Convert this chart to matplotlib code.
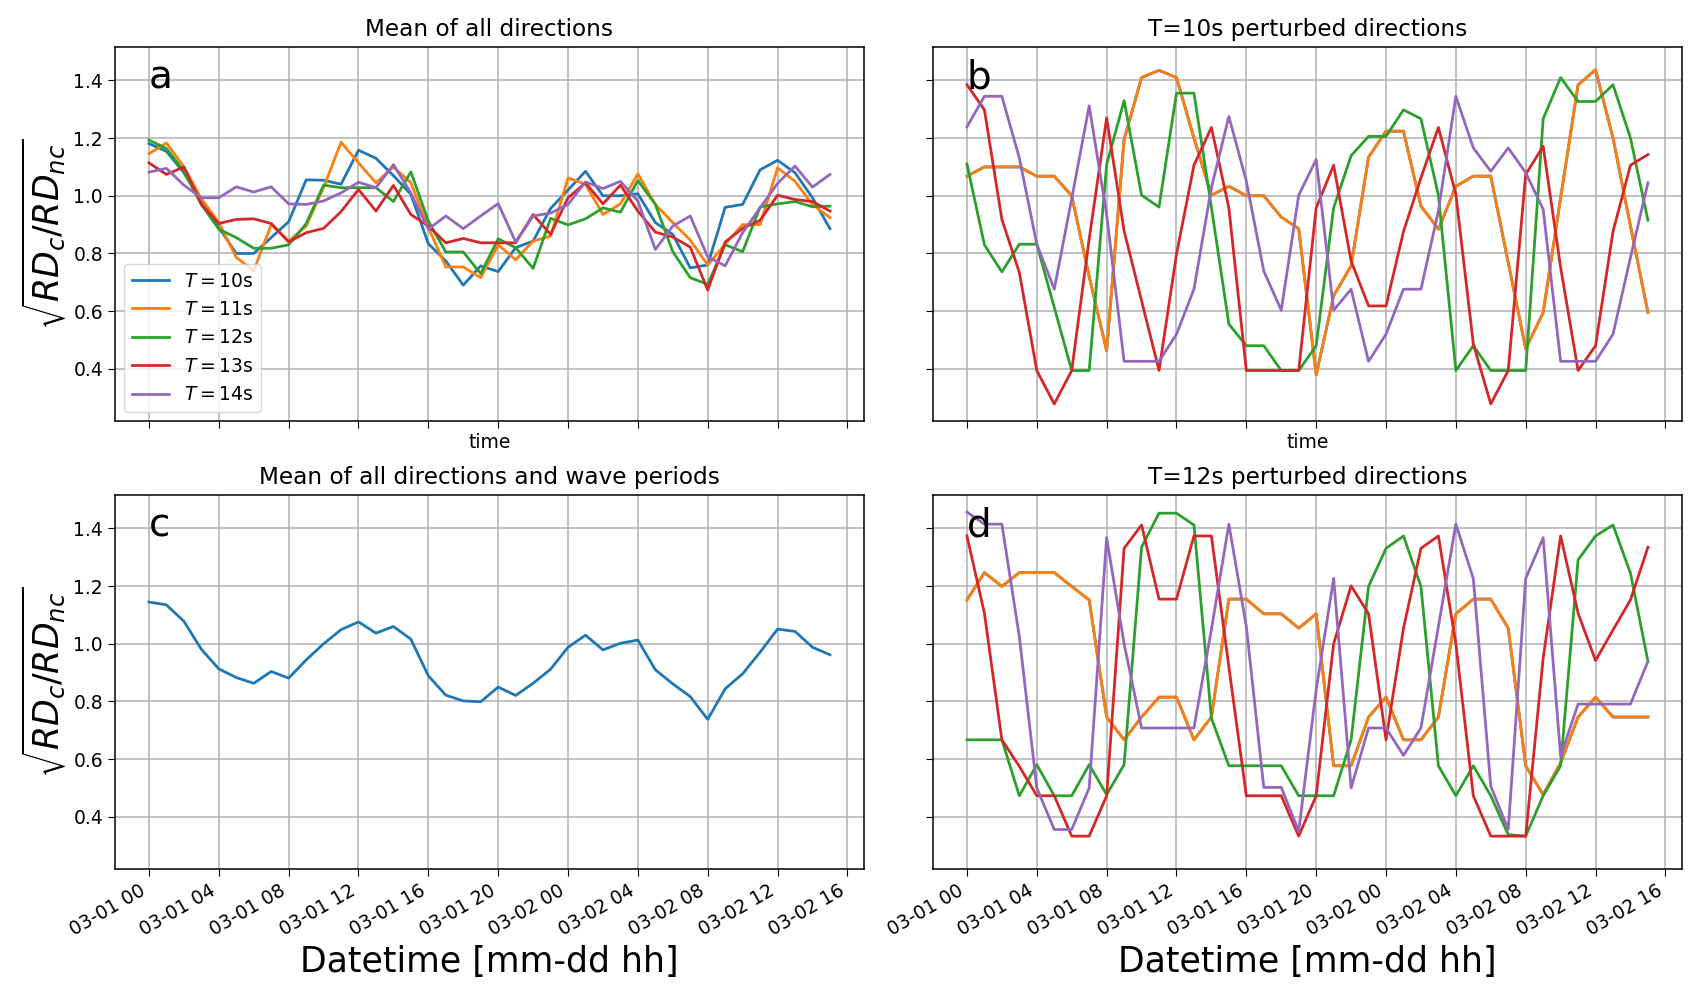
import pandas as pd
import matplotlib
matplotlib.use('Agg')
import matplotlib.pyplot as plt
import matplotlib.dates as mdates

# hourly time stamps, 03-01 00 .. 03-02 15
times = pd.date_range('2021-03-01 00:00', periods=40, freq='h')

# a: mean of all directions, per wave period
a_T10 = [1.181, 1.154, 1.08, 0.98, 0.89, 0.80, 0.80, 0.855, 0.91, 1.055,
         1.054, 1.04, 1.158, 1.13, 1.07, 1.005, 0.834, 0.774, 0.69, 0.757,
         0.737, 0.82, 0.843, 0.956, 1.02, 1.085, 1.0, 1.0, 1.007, 0.907,
         0.866, 0.75, 0.76, 0.96, 0.97, 1.09, 1.123, 1.08, 0.993, 0.886]
a_T11 = [1.146, 1.183, 1.10, 0.99, 0.907, 0.786, 0.74, 0.90, 0.843, 0.895,
         1.028, 1.186, 1.114, 1.045, 1.10, 1.045, 0.89, 0.753, 0.753, 0.716,
         0.83, 0.778, 0.843, 0.86, 1.062, 1.04, 0.935, 0.972, 1.076, 0.97,
         0.907, 0.846, 0.76, 0.832, 0.90, 0.90, 1.097, 1.05, 0.97, 0.924]
a_T12 = [1.193, 1.164, 1.085, 0.97, 0.884, 0.855, 0.818, 0.818, 0.83, 0.903,
         1.037, 1.028, 1.028, 1.028, 0.98, 1.083, 0.912, 0.805, 0.805, 0.73,
         0.851, 0.82, 0.748, 0.922, 0.899, 0.92, 0.958, 0.943, 1.053, 0.97,
         0.806, 0.716, 0.693, 0.83, 0.806, 0.961, 0.972, 0.98, 0.962, 0.964]
a_T13 = [1.114, 1.074, 1.10, 0.97, 0.904, 0.918, 0.92, 0.904, 0.84, 0.872,
         0.887, 0.945, 1.022, 0.947, 1.036, 0.935, 0.895, 0.837, 0.852, 0.837,
         0.837, 0.837, 0.935, 0.866, 0.993, 1.045, 0.972, 1.037, 0.947, 0.874,
         0.857, 0.822, 0.673, 0.84, 0.887, 0.915, 1.002, 0.987, 0.98, 0.947]
a_T14 = [1.082, 1.095, 1.037, 0.993, 0.993, 1.031, 1.013, 1.031, 0.972, 0.97,
         0.982, 1.01, 1.047, 1.028, 1.108, 1.01, 0.884, 0.93, 0.886, 0.93,
         0.973, 0.84, 0.93, 0.94, 0.97, 1.048, 1.025, 1.05, 0.982, 0.814,
         0.895, 0.93, 0.788, 0.757, 0.872, 0.958, 1.043, 1.103, 1.03, 1.074]

# b: T=10s perturbed directions (first line lies under the second)
b_d2 = [1.068, 1.10, 1.10, 1.10, 1.068, 1.068, 1.0, 0.72, 0.463, 1.195,
        1.41, 1.435, 1.41, 1.20, 1.002, 1.033, 1.0, 1.0, 0.926, 0.886,
        0.379, 0.653, 0.757, 1.134, 1.224, 1.224, 0.964, 0.884, 1.033, 1.068,
        1.068, 0.768, 0.469, 0.595, 0.993, 1.385, 1.437, 1.20, 0.895, 0.595]
b_d1 = b_d2
b_d3 = [1.11, 0.83, 0.736, 0.832, 0.832, 0.613, 0.394, 0.394, 1.108, 1.33,
        1.002, 0.961, 1.356, 1.356, 0.96, 0.555, 0.48, 0.48, 0.394, 0.394,
        0.48, 0.958, 1.139, 1.206, 1.206, 1.298, 1.267, 1.002, 0.394, 0.48,
        0.394, 0.394, 0.394, 1.267, 1.41, 1.327, 1.327, 1.385, 1.20, 0.915]
b_d4 = [1.385, 1.298, 0.918, 0.734, 0.394, 0.278, 0.394, 0.85, 1.27, 0.878,
        0.636, 0.394, 0.797, 1.106, 1.237, 0.958, 0.394, 0.394, 0.394, 0.394,
        0.958, 1.106, 0.774, 0.618, 0.618, 0.876, 1.062, 1.237, 1.005, 0.486,
        0.278, 0.394, 1.074, 1.172, 0.751, 0.394, 0.48, 0.876, 1.106, 1.143]
b_d5 = [1.239, 1.345, 1.345, 1.131, 0.832, 0.676, 0.99, 1.312, 0.935, 0.426,
        0.426, 0.426, 0.52, 0.676, 1.028, 1.275, 1.051, 0.739, 0.603, 1.002,
        1.126, 0.603, 0.676, 0.426, 0.52, 0.676, 0.676, 0.947, 1.345, 1.166,
        1.085, 1.166, 1.08, 0.953, 0.426, 0.426, 0.426, 0.52, 0.786, 1.045]

# c: mean of all directions and wave periods
c_mean = [1.145, 1.135, 1.078, 0.981, 0.913, 0.883, 0.863, 0.904, 0.881, 0.944,
          1.0, 1.049, 1.076, 1.037, 1.06, 1.016, 0.889, 0.822, 0.802, 0.799,
          0.85, 0.821, 0.863, 0.912, 0.988, 1.03, 0.979, 1.002, 1.013, 0.91,
          0.861, 0.817, 0.738, 0.844, 0.896, 0.971, 1.051, 1.043, 0.988, 0.962]

# d: T=12s perturbed directions
d_d2 = [1.152, 1.247, 1.199, 1.247, 1.247, 1.247, 1.199, 1.152, 0.746, 0.667,
        0.746, 0.815, 0.815, 0.667, 0.746, 1.155, 1.155, 1.104, 1.104, 1.054,
        1.104, 0.577, 0.577, 0.746, 0.815, 0.667, 0.667, 0.746, 1.104, 1.155,
        1.155, 1.054, 0.577, 0.477, 0.587, 0.746, 0.815, 0.746, 0.746, 0.746]
d_d1 = d_d2
d_d3 = [0.667, 0.667, 0.667, 0.473, 0.581, 0.473, 0.473, 0.581, 0.477, 0.581,
        1.335, 1.453, 1.453, 1.412, 0.742, 0.577, 0.577, 0.577, 0.577, 0.473,
        0.473, 0.473, 0.667, 1.199, 1.331, 1.374, 1.199, 0.577, 0.473, 0.577,
        0.473, 0.338, 0.333, 0.473, 0.577, 1.291, 1.374, 1.412, 1.245, 0.939]
d_d4 = [1.374, 1.106, 0.667, 0.575, 0.473, 0.473, 0.333, 0.333, 0.473, 1.331,
        1.412, 1.155, 1.155, 1.374, 1.374, 0.92, 0.473, 0.473, 0.473, 0.333,
        0.473, 1.0, 1.201, 1.104, 0.667, 1.054, 1.331, 1.374, 1.0, 0.473,
        0.333, 0.333, 0.333, 0.95, 1.374, 1.106, 0.942, 1.048, 1.152, 1.335]
d_d5 = [1.457, 1.415, 1.415, 1.025, 0.5, 0.356, 0.356, 0.5, 1.368, 1.0,
        0.708, 0.708, 0.708, 0.708, 1.05, 1.415, 1.06, 0.502, 0.502, 0.35,
        0.84, 1.227, 0.5, 0.708, 0.708, 0.613, 0.708, 1.06, 1.415, 1.226,
        0.506, 0.356, 1.226, 1.368, 0.61, 0.791, 0.791, 0.791, 0.791, 0.939]

periods = ['10', '11', '12', '13', '14']
titles = ['Mean of all directions', 'T=10s perturbed directions',
          'Mean of all directions and wave periods', 'T=12s perturbed directions']
letters = ['a', 'b', 'c', 'd']

fs_tick = 13.5
lw = 2.0
plt.rcParams['xtick.labelsize'] = fs_tick
plt.rcParams['ytick.labelsize'] = fs_tick
plt.rcParams['xtick.major.size'] = 5
plt.rcParams['ytick.major.size'] = 5
plt.rcParams['axes.linewidth'] = 1.1

fig, axs = plt.subplots(2, 2, figsize=(17, 10), dpi=100, sharex=True, sharey=True)

ax = axs[0, 0]
for p, y in zip(periods, [a_T10, a_T11, a_T12, a_T13, a_T14]):
    ax.plot(times, y, linewidth=lw, label='$T=' + p + '$s')
ax.legend(loc='lower left', fontsize=fs_tick)

ax = axs[0, 1]
for y in [b_d1, b_d2, b_d3, b_d4, b_d5]:
    ax.plot(times, y, linewidth=lw)

ax = axs[1, 0]
ax.plot(times, c_mean, linewidth=lw)

ax = axs[1, 1]
for y in [d_d1, d_d2, d_d3, d_d4, d_d5]:
    ax.plot(times, y, linewidth=lw)

for ax, t, l in zip(axs.flat, titles, letters):
    ax.set_title(t, fontsize=16.7, pad=8)
    ax.text(0.045, 0.89, l, transform=ax.transAxes, fontsize=28)
    ax.grid(True, color='#b0b0b0', linewidth=1.1)
    ax.set_yticks([0.4, 0.6, 0.8, 1.0, 1.2, 1.4])
    ax.xaxis.set_major_locator(mdates.HourLocator(byhour=range(0, 24, 4)))
    ax.xaxis.set_major_formatter(mdates.DateFormatter('%m-%d %H'))

# rotate dates first: autofmt_xdate clears the upper x labels
fig.autofmt_xdate()

for ax in axs[0]:
    ax.set_xlabel('time', fontsize=fs_tick)
for ax in axs[1]:
    ax.set_xlabel('Datetime [mm-dd hh]', fontsize=25)
for ax in axs[:, 0]:
    ax.set_ylabel(r'$\sqrt{RD_c/RD_{nc}}$', fontsize=25)

plt.subplots_adjust(left=0.0676, right=0.9894, bottom=0.131, top=0.953,
                    wspace=0.092, hspace=0.198)

plt.savefig('out.png', dpi=100)
